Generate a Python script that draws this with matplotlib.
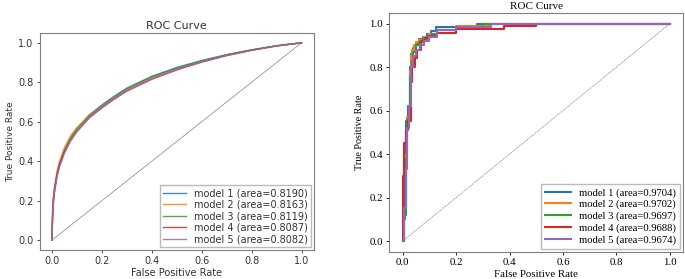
import matplotlib
matplotlib.use("Agg")
import matplotlib.pyplot as plt

# --- left panel: smooth ROC curves (shared FPR grid) ---
left_fpr = [0.0, 0.002, 0.005, 0.01, 0.02, 0.03, 0.05, 0.075, 0.1, 0.15,
            0.2, 0.25, 0.3, 0.4, 0.5, 0.6, 0.7, 0.8, 0.9, 1.0]
left_tpr = {
    "model 1 (area=0.8190)": [0.0, 0.11, 0.19, 0.25, 0.33, 0.385, 0.455, 0.52, 0.565, 0.635,
                              0.685, 0.73, 0.77, 0.83, 0.875, 0.91, 0.94, 0.964, 0.985, 1.0],
    "model 2 (area=0.8163)": [0.0, 0.13, 0.21, 0.27, 0.35, 0.40, 0.47, 0.53, 0.57, 0.635,
                              0.68, 0.725, 0.765, 0.825, 0.87, 0.905, 0.937, 0.963, 0.985, 1.0],
    "model 3 (area=0.8119)": [0.0, 0.11, 0.19, 0.25, 0.33, 0.38, 0.45, 0.515, 0.56, 0.63,
                              0.68, 0.725, 0.768, 0.828, 0.872, 0.908, 0.939, 0.964, 0.985, 1.0],
    "model 4 (area=0.8087)": [0.0, 0.12, 0.20, 0.26, 0.33, 0.38, 0.45, 0.505, 0.55, 0.62,
                              0.67, 0.715, 0.755, 0.815, 0.862, 0.902, 0.935, 0.962, 0.984, 1.0],
    "model 5 (area=0.8082)": [0.0, 0.10, 0.18, 0.24, 0.32, 0.37, 0.44, 0.505, 0.55, 0.625,
                              0.675, 0.72, 0.76, 0.82, 0.866, 0.904, 0.936, 0.962, 0.984, 1.0],
}

# --- right panel: stepped ROC curves ---
right_curves = {
    "model 1 (area=0.9704)": (
        [0.0, 0.006, 0.01, 0.014, 0.02, 0.028, 0.033, 0.04, 0.05, 0.06, 0.075, 0.09, 0.105, 0.125, 0.28, 1.0],
        [0.0, 0.10, 0.38, 0.55, 0.62, 0.80, 0.86, 0.89, 0.91, 0.93, 0.94, 0.95, 0.965, 0.985, 1.0, 1.0]),
    "model 2 (area=0.9702)": (
        [0.0, 0.005, 0.012, 0.018, 0.026, 0.031, 0.036, 0.042, 0.05, 0.06, 0.08, 0.1, 0.13, 0.2, 0.33, 1.0],
        [0.0, 0.15, 0.40, 0.57, 0.78, 0.85, 0.88, 0.90, 0.915, 0.925, 0.94, 0.95, 0.97, 0.99, 1.0, 1.0]),
    "model 3 (area=0.9697)": (
        [0.0, 0.005, 0.012, 0.018, 0.028, 0.034, 0.04, 0.05, 0.06, 0.075, 0.09, 0.11, 0.13, 0.2, 0.3, 1.0],
        [0.0, 0.12, 0.38, 0.56, 0.76, 0.83, 0.87, 0.90, 0.915, 0.93, 0.94, 0.95, 0.97, 0.985, 1.0, 1.0]),
    "model 4 (area=0.9688)": (
        [0.0, 0.003, 0.006, 0.012, 0.02, 0.03, 0.036, 0.045, 0.055, 0.07, 0.085, 0.1, 0.13, 0.2, 0.38, 0.5, 1.0],
        [0.0, 0.30, 0.45, 0.51, 0.55, 0.73, 0.80, 0.84, 0.88, 0.92, 0.935, 0.945, 0.955, 0.975, 0.99, 1.0, 1.0]),
    "model 5 (area=0.9674)": (
        [0.0, 0.006, 0.012, 0.018, 0.025, 0.033, 0.04, 0.05, 0.065, 0.08, 0.1, 0.13, 0.2, 0.33, 1.0],
        [0.0, 0.15, 0.33, 0.52, 0.62, 0.80, 0.85, 0.88, 0.90, 0.92, 0.94, 0.97, 0.985, 1.0, 1.0]),
}

colors = ["#1f77b4", "#ff7f0e", "#2ca02c", "#d62728", "#9467bd"]
spine_gray = "#7f7f7f"

fig = plt.figure(figsize=(6.85, 2.79), dpi=100)

# Left panel (DejaVu Sans, thin lines)
ax1 = fig.add_axes([0.0577, 0.104, 0.4007, 0.778])
for (label, tpr), c in zip(left_tpr.items(), colors):
    ax1.plot(left_fpr, tpr, color=c, lw=1.0, label=label, alpha=0.85)
ax1.plot([0, 1], [0, 1], color="gray", lw=0.5)
ax1.set_xticks([0, 0.2, 0.4, 0.6, 0.8, 1.0])
ax1.set_yticks([0, 0.2, 0.4, 0.6, 0.8, 1.0])
ax1.tick_params(labelsize=7, length=2.5, width=0.6, colors="#333333", pad=2)
ax1.set_title("ROC Curve", fontsize=8, pad=3, color="#333333")
ax1.set_xlabel("False Positive Rate", fontsize=7, labelpad=1, color="#333333")
ax1.set_ylabel("True Positive Rate", fontsize=6.5, labelpad=2, color="#333333")
for s in ax1.spines.values():
    s.set_color(spine_gray)
    s.set_linewidth(0.8)
leg1 = ax1.legend(loc="lower right", fontsize=7, labelspacing=0.15, handlelength=2.4,
                  borderaxespad=0.3, borderpad=0.3, fancybox=False, edgecolor="#aaaaaa")
for t in leg1.get_texts():
    t.set_color("#333333")

# Right panel (serif, thicker steps)
serif = ["Liberation Serif", "DejaVu Serif"]
ax2 = fig.add_axes([0.5683, 0.0968, 0.4292, 0.8577])
for (label, (fpr, tpr)), c in zip(right_curves.items(), colors):
    ax2.plot(fpr, tpr, color=c, lw=1.5, label=label, drawstyle="steps-post")
ax2.plot([0, 1], [0, 1], color="gray", lw=0.5, ls=(0, (2, 1)))
ax2.set_xticks([0, 0.2, 0.4, 0.6, 0.8, 1.0])
ax2.set_yticks([0, 0.2, 0.4, 0.6, 0.8, 1.0])
ax2.tick_params(labelsize=7.8, length=2.5, width=0.6, pad=2)
for lab in ax2.get_xticklabels() + ax2.get_yticklabels():
    lab.set_family(serif)
ax2.set_title("ROC Curve", fontsize=8, pad=3, family=serif)
ax2.set_xlabel("False Positive Rate", fontsize=7.8, labelpad=2, family=serif)
ax2.set_ylabel("True Positive Rate", fontsize=7.3, labelpad=4, family=serif)
for s in ax2.spines.values():
    s.set_color(spine_gray)
    s.set_linewidth(0.8)
ax2.legend(loc="lower right", prop={"family": serif, "size": 7.7}, labelspacing=0.2,
           handlelength=2.4, borderaxespad=0.3, borderpad=0.35, fancybox=False,
           edgecolor="#aaaaaa")

fig.savefig("out.png", dpi=100)
